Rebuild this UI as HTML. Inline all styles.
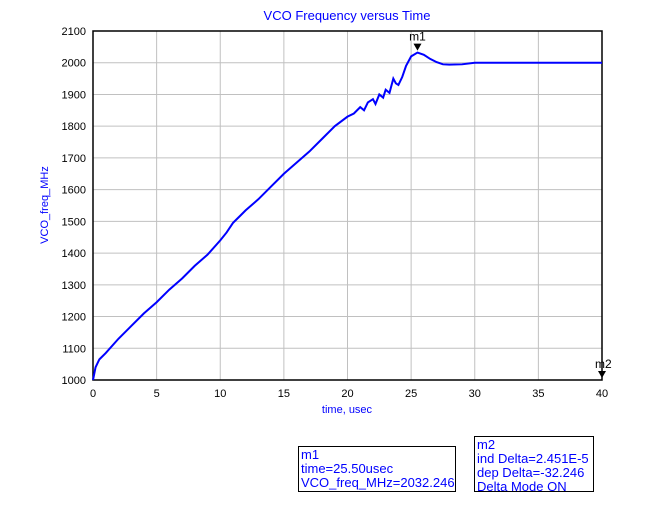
<!DOCTYPE html>
<html><head><meta charset="utf-8"><style>
body{margin:0;background:#fff;width:646px;height:512px;overflow:hidden;font-family:"Liberation Sans",sans-serif}
.box{position:absolute;border:1px solid #000;color:#0000ff;font-size:13px;line-height:14px;padding:1px 2px;background:#fff}
</style></head><body>
<svg width="646" height="512" style="position:absolute;left:0;top:0">
<g id="grid"></g><g id="axes"></g>
<polyline id="line" fill="none" stroke="#0000ff" stroke-width="2"/>
<text x="347" y="20" text-anchor="middle" fill="#0000ff" font-size="13" font-family="Liberation Sans">VCO Frequency versus Time</text>
<text x="347" y="413" text-anchor="middle" fill="#0000ff" font-size="11" font-family="Liberation Sans">time, usec</text>
<text x="48" y="205" text-anchor="middle" fill="#0000ff" font-size="11" font-family="Liberation Sans" transform="rotate(-90 48 205)">VCO_freq_MHz</text>
<g id="markers"></g>
</svg>
<div class="box" style="left:298px;top:446px;width:152px;height:42px">m1<br>time=25.50usec<br>VCO_freq_MHz=2032.246</div>
<div class="box" style="left:474px;top:436px;width:114px;height:52px">m2<br>ind Delta=2.451E-5<br>dep Delta=-32.246<br>Delta Mode ON</div>
<script>
const xTicks=[0,5,10,15,20,25,30,35,40];
const yTicks=[1000,1100,1200,1300,1400,1500,1600,1700,1800,1900,2000,2100];
const times=[0,0.2,0.5,1,2,3,4,5,6,7,8,9,10,10.5,11,11.5,12,13,14,15,16,17,18,19,20,20.5,21,21.3,21.6,22,22.2,22.5,22.8,23,23.3,23.6,23.8,24,24.3,24.6,25,25.5,26,26.5,27,27.5,28,29,30,35,40];
const freq=[1000,1040,1065,1085,1130,1170,1210,1245,1285,1320,1360,1395,1440,1465,1495,1515,1535,1570,1610,1650,1685,1720,1760,1800,1830,1840,1860,1850,1875,1885,1870,1900,1890,1915,1905,1950,1935,1930,1955,1990,2020,2032,2025,2012,2002,1995,1994,1995,2000,2000,2000];
const markers=[{name:'m1',t:25.5,v:2032},{name:'m2',t:40,v:1000}];
const X=t=>93+t*(602-93)/40, Y=v=>380-(v-1000)*(380-31)/1100;
const ns='http://www.w3.org/2000/svg';
const grid=document.getElementById('grid'),axes=document.getElementById('axes');
function mk(tag,a,p){const e=document.createElementNS(ns,tag);for(const k in a)e.setAttribute(k,a[k]);p.appendChild(e);return e;}
xTicks.forEach(t=>{
 const l=mk('line',{x1:X(t),x2:X(t),y1:Y(2100),y2:Y(1000),stroke:'#c0c0c0'},grid);
 
 
 const tx=mk('text',{x:X(t),y:397,'text-anchor':'middle','font-size':11,'font-family':'Liberation Sans'},axes);
 tx.textContent=t;
 
 
});
yTicks.forEach(v=>{
 const l=mk('line',{x1:X(0),x2:X(40),y1:Y(v),y2:Y(v),stroke:'#c0c0c0'},grid);
 
 
 const tx=mk('text',{x:86,y:Y(v)+4,'text-anchor':'end','font-size':11,'font-family':'Liberation Sans'},axes);
 tx.textContent=v;
 
 
});
const fr=mk('rect',{x:X(0),y:Y(2100),width:X(40)-X(0),height:Y(1000)-Y(2100),fill:'none',stroke:'#000','stroke-width':1.5},axes);


document.getElementById('line').setAttribute('points',times.map((t,i)=>X(t)+','+Y(freq[i])).join(' '));
const mg=document.getElementById('markers');
markers.forEach(m=>{
 const x=X(m.t),y=Y(m.v);
 const p=mk('path',{d:`M${x-4},${y-9}L${x+4},${y-9}L${x},${y-2}Z`,fill:'#000'},mg);
 
 
 const tx=mk('text',{x:m.t>=40?x-7:x,y:y-12,'text-anchor':m.t>=40?'start':'middle','font-size':12,'font-family':'Liberation Sans'},mg);
 tx.textContent=m.name;
 
 
});
</script>
</body></html>
